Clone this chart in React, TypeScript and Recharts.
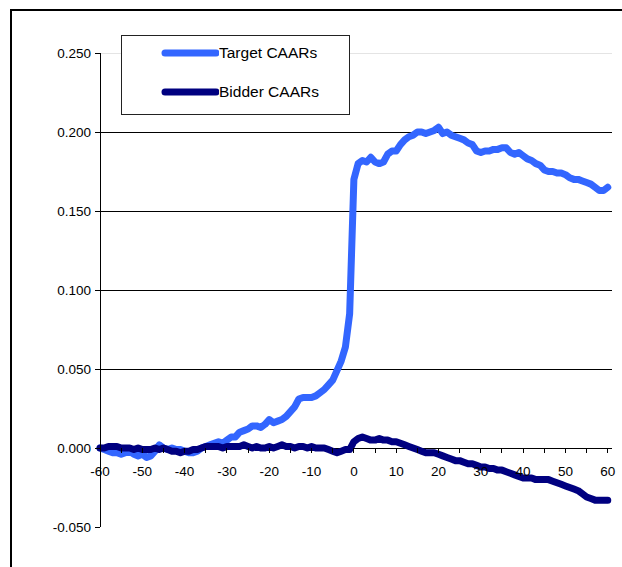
import { LineChart, Line, XAxis, YAxis, ReferenceLine, Legend } from "recharts";

// event window, days relative to announcement
const DAYS = [
  -60, -59, -58, -57, -56, -55, -54, -53, -52, -51,
  -50, -49, -48, -47, -46, -45, -44, -43, -42, -41,
  -40, -39, -38, -37, -36, -35, -34, -33, -32, -31,
  -30, -29, -28, -27, -26, -25, -24, -23, -22, -21,
  -20, -19, -18, -17, -16, -15, -14, -13, -12, -11,
  -10, -9, -8, -7, -6, -5, -4, -3, -2, -1,
  0, 1, 2, 3, 4, 5, 6, 7, 8, 9,
  10, 11, 12, 13, 14, 15, 16, 17, 18, 19,
  20, 21, 22, 23, 24, 25, 26, 27, 28, 29,
  30, 31, 32, 33, 34, 35, 36, 37, 38, 39,
  40, 41, 42, 43, 44, 45, 46, 47, 48, 49,
  50, 51, 52, 53, 54, 55, 56, 57, 58, 59,
  60,
];

const TARGET = [
  0.0, -0.001, -0.002, -0.003, -0.003, -0.004, -0.003, -0.002, -0.004, -0.005,
  -0.004, -0.006, -0.005, -0.002, 0.002, 0.0, -0.001, 0.0, -0.001, -0.001,
  -0.002, -0.003, -0.003, -0.002, 0.0, 0.001, 0.002, 0.003, 0.004, 0.003,
  0.005, 0.007, 0.007, 0.01, 0.011, 0.012, 0.014, 0.014, 0.013, 0.015,
  0.018, 0.016, 0.017, 0.018, 0.02, 0.023, 0.026, 0.031, 0.032, 0.032,
  0.032, 0.033, 0.035, 0.037, 0.04, 0.043, 0.049, 0.055, 0.064, 0.085,
  0.17, 0.18, 0.182, 0.181, 0.184, 0.181, 0.18, 0.181, 0.186, 0.188,
  0.188, 0.192, 0.195, 0.197, 0.198, 0.2, 0.2, 0.199, 0.2, 0.201,
  0.203, 0.199, 0.2, 0.198, 0.197, 0.196, 0.195, 0.193, 0.192, 0.188,
  0.187, 0.188, 0.188, 0.189, 0.189, 0.19, 0.19, 0.187, 0.186, 0.187,
  0.185, 0.183, 0.182, 0.18, 0.179, 0.176, 0.175, 0.175, 0.174, 0.174,
  0.173, 0.171, 0.17, 0.17, 0.169, 0.168, 0.167, 0.165, 0.163, 0.163,
  0.165,
];

const BIDDER = [
  0.0, 0.0, 0.001, 0.001, 0.001, 0.0, 0.0, 0.0, -0.001, 0.0,
  -0.001, -0.001, -0.001, 0.0, -0.001, 0.0, -0.001, -0.002, -0.002, -0.003,
  -0.002, -0.002, -0.001, -0.001, 0.0, 0.001, 0.001, 0.001, 0.001, 0.0,
  0.001, 0.001, 0.001, 0.001, 0.002, 0.001, 0.0, 0.001, 0.0, 0.0,
  0.001, 0.0, 0.001, 0.002, 0.001, 0.001, 0.0, 0.001, 0.001, 0.0,
  0.001, 0.0, 0.0, 0.0, -0.001, -0.002, -0.003, -0.002, -0.001, -0.001,
  0.004, 0.006, 0.007, 0.006, 0.005, 0.005, 0.006, 0.005, 0.005, 0.004,
  0.004, 0.003, 0.002, 0.001, 0.0, -0.001, -0.002, -0.003, -0.003, -0.003,
  -0.004, -0.005, -0.006, -0.007, -0.008, -0.008, -0.009, -0.01, -0.01, -0.011,
  -0.012, -0.012, -0.013, -0.013, -0.014, -0.014, -0.015, -0.016, -0.017, -0.018,
  -0.019, -0.019, -0.019, -0.02, -0.02, -0.02, -0.02, -0.021, -0.022, -0.023,
  -0.024, -0.025, -0.026, -0.027, -0.029, -0.031, -0.032, -0.033, -0.033, -0.033,
  -0.033,
];

const SERIES_ORDER = ["Target CAARs", "Bidder CAARs"];
const X_TICKS = [
  -60, -55, -50, -45, -40, -35, -30, -25, -20, -15, -10, -5,
  0, 5, 10, 15, 20, 25, 30, 35, 40, 45, 50, 55, 60,
];
const X_LABELS = [-60, -50, -40, -30, -20, -10, 0, 10, 20, 30, 40, 50, 60];
const Y_TICKS = [-0.05, 0, 0.05, 0.1, 0.15, 0.2, 0.25];
const GRID_LINES = [0.05, 0.1, 0.15, 0.2];

const data = DAYS.map((day, i) => ({
  day,
  target: TARGET[i],
  bidder: BIDDER[i],
}));

const W = 622;
const H = 567;
const MARGIN = { top: 53, right: 10, bottom: 0, left: 0 };
const X_AXIS_H = 40;
const Y_MIN = -0.05;
const Y_MAX = 0.25;
const FONT = "'Liberation Sans', Arial, sans-serif";

// the category axis crosses at y = 0, not at the bottom of the plot
const PLOT_H = H - MARGIN.top - MARGIN.bottom - X_AXIS_H;
const ZERO_SHIFT = (PLOT_H * (0 - Y_MIN)) / (Y_MAX - Y_MIN);

const XTick = (props: any) => {
  const { x, y, payload } = props;
  const y0 = y - ZERO_SHIFT;
  return (
    <g>
      <line x1={x} x2={x} y1={y0} y2={y0 + 5} stroke="#000" shapeRendering="crispEdges" />
      {X_LABELS.includes(payload.value) && (
        <text
          x={x}
          y={y0 + 18}
          dy="0.72em"
          textAnchor="middle"
          fill="#000"
          fontSize={13.5}
          fontFamily={FONT}
        >
          {payload.value}
        </text>
      )}
    </g>
  );
};

const LegendBox = (props: any) => {
  const items = [...(props.payload || [])].sort(
    (a: any, b: any) => SERIES_ORDER.indexOf(a.value) - SERIES_ORDER.indexOf(b.value)
  );
  return (
    <div
      style={{
        position: "relative",
        width: 229,
        height: 80,
        boxSizing: "border-box",
        border: "1px solid #222",
        background: "#fff",
        fontFamily: FONT,
        fontSize: 15.5,
        color: "#000",
      }}
    >
      {items.map((it: any, i: number) => (
        <div
          key={it.value}
          style={{
            position: "absolute",
            left: 39,
            top: 6 + i * 39,
            height: 22,
            display: "flex",
            alignItems: "center",
            whiteSpace: "nowrap",
          }}
        >
          <svg width={58} height={10} style={{ display: "block" }}>
            <line
              x1={4}
              x2={55}
              y1={5}
              y2={5}
              stroke={it.color}
              strokeWidth={7}
              strokeLinecap="round"
            />
          </svg>
          <span>{it.value}</span>
        </div>
      ))}
    </div>
  );
};

export default function App() {
  return (
    <div
      style={{
        position: "absolute",
        left: 0,
        top: 0,
        width: W,
        height: H,
        overflow: "hidden",
        background: "#fff",
      }}
    >
      <div
        style={{
          position: "absolute",
          left: 10,
          top: 9,
          width: W,
          height: H,
          borderTop: "2px solid #000",
          borderLeft: "2px solid #000",
        }}
      />
      <div style={{ position: "absolute", left: 0, top: 0 }}>
        <LineChart width={W} height={H} data={data} margin={MARGIN}>
          <XAxis
            dataKey="day"
            type="number"
            domain={[-60, 61]}
            ticks={X_TICKS}
            interval={0}
            height={X_AXIS_H}
            axisLine={false}
            tickLine={false}
            tickSize={0}
            tickMargin={0}
            tick={<XTick />}
          />
          <YAxis
            domain={[Y_MIN, Y_MAX]}
            ticks={Y_TICKS}
            interval={0}
            width={100}
            tickFormatter={(v: number) => v.toFixed(3)}
            axisLine={{ stroke: "#000", shapeRendering: "crispEdges" }}
            tickLine={{ stroke: "#000", shapeRendering: "crispEdges" }}
            tickSize={5}
            tickMargin={4}
            tick={{ fill: "#000", fontSize: 13.5, fontFamily: FONT }}
          />
          <ReferenceLine y={0.25} stroke="#e4e4e4" shapeRendering="crispEdges" />
          {GRID_LINES.map((v) => (
            <ReferenceLine key={v} y={v} stroke="#000" shapeRendering="crispEdges" />
          ))}
          <ReferenceLine y={0} stroke="#000" shapeRendering="crispEdges" />
          <Legend
            layout="horizontal"
            verticalAlign="middle"
            align="center"
            content={<LegendBox />}
            wrapperStyle={{ left: 121, top: 35, width: 229, height: 80 }}
          />
          <Line
            type="linear"
            dataKey="target"
            name="Target CAARs"
            stroke="#3366ff"
            strokeWidth={7}
            strokeLinejoin="round"
            strokeLinecap="round"
            dot={false}
            isAnimationActive={false}
          />
          <Line
            type="linear"
            dataKey="bidder"
            name="Bidder CAARs"
            stroke="#000080"
            strokeWidth={7}
            strokeLinejoin="round"
            strokeLinecap="round"
            dot={false}
            isAnimationActive={false}
          />
        </LineChart>
      </div>
    </div>
  );
}
